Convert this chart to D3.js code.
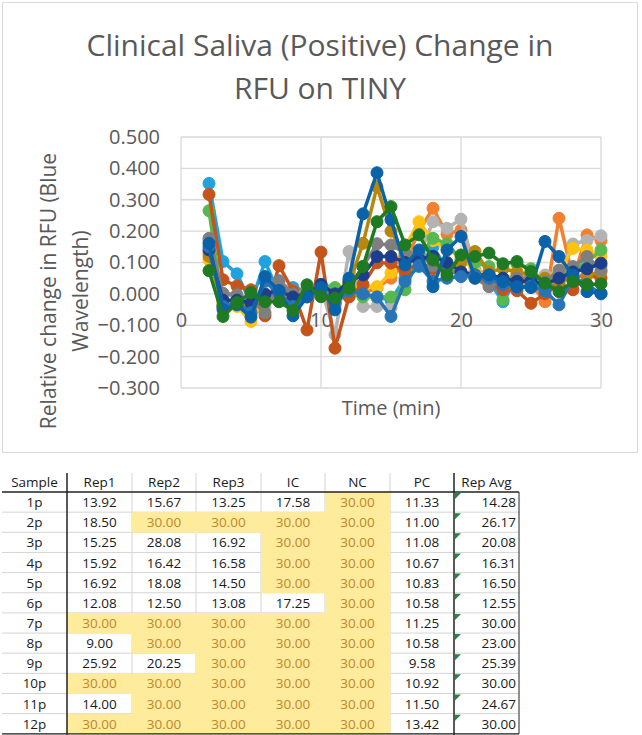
<!DOCTYPE html>
<html>
<head>
<meta charset="utf-8">
<script src="https://cdn.jsdelivr.net/npm/d3@7"></script>
<style>
  body { margin: 0; background: #fff; }
  svg { display: block; font-family: "Open Sans", sans-serif; }
</style>
</head>
<body>
<svg id="chart" width="642" height="735"></svg>
<script>
// x values (minutes) shared by every series
const minutes = [2, 3, 4, 5, 6, 7, 8, 9, 10, 11, 12, 13, 14, 15, 16, 17, 18, 19, 20, 21, 22, 23, 24, 25, 26, 27, 28, 29, 30];

// relative change in RFU, one array per sample
const s1p = [0.352, 0.103, 0.064, -0.03, 0.103, 0.0, 0.02, 0.01, 0.02, 0.0, 0.02, 0.0, -0.01, -0.02, 0.05, 0.087, 0.15, 0.08, 0.06, 0.06, 0.04, -0.025, 0.05, 0.04, 0.02, 0.03, 0.08, 0.09, 0.09];
const s2p = [0.13, -0.03, -0.03, -0.04, -0.03, 0.0, -0.02, 0.0, 0.02, 0.0, -0.01, 0.0, 0.02, 0.05, 0.1, 0.2, 0.273, 0.19, 0.204, 0.07, 0.06, 0.04, 0.04, 0.03, -0.025, 0.241, 0.05, 0.188, 0.17];
const s3p = [0.17, 0.0, -0.01, -0.03, -0.04, 0.04, 0.01, 0.0, 0.02, -0.13, 0.135, -0.04, -0.04, -0.045, 0.03, 0.12, 0.23, 0.209, 0.238, 0.08, 0.06, 0.05, 0.06, 0.05, 0.06, 0.07, 0.159, 0.17, 0.185];
const s4p = [0.108, -0.03, -0.04, -0.088, -0.02, -0.01, -0.03, 0.0, 0.02, 0.01, 0.03, 0.023, 0.023, 0.067, 0.15, 0.23, 0.17, 0.14, 0.12, 0.07, 0.06, 0.05, 0.06, 0.04, 0.05, 0.07, 0.145, 0.14, 0.12];
const s5p = [0.265, -0.04, -0.02, -0.03, -0.01, 0.0, -0.02, 0.01, 0.03, 0.02, 0.0, -0.01, -0.01, -0.01, 0.013, 0.12, 0.177, 0.16, 0.11, 0.1, 0.087, -0.019, 0.095, 0.08, 0.03, 0.06, 0.08, 0.1, 0.14];
const s6p = [0.317, 0.045, 0.025, 0.013, -0.07, 0.09, 0.01, -0.115, 0.133, -0.173, -0.009, 0.03, 0.099, 0.098, 0.07, 0.1, 0.08, 0.07, 0.07, 0.06, 0.03, 0.013, 0.01, -0.03, 0.0, 0.03, 0.013, 0.06, 0.05];
const s7p = [0.12, -0.04, -0.03, -0.04, -0.01, 0.0, -0.02, 0.01, 0.02, 0.0, 0.03, 0.161, 0.342, 0.2, 0.12, 0.13, 0.1, 0.092, 0.1, 0.135, 0.07, 0.08, 0.07, 0.06, 0.05, 0.04, 0.05, 0.06, 0.07];
const s8p = [0.177, 0.002, -0.003, -0.02, -0.06, 0.042, 0.0, 0.0, 0.02, -0.02, 0.02, 0.087, 0.16, 0.156, 0.13, 0.13, 0.09, 0.08, 0.06, 0.05, 0.023, 0.04, 0.05, 0.05, 0.04, 0.076, 0.087, 0.119, 0.076];
const s9p = [0.14, -0.02, -0.02, -0.03, 0.0, 0.01, -0.01, 0.0, 0.03, 0.0, 0.04, 0.06, 0.119, 0.119, 0.1, 0.11, 0.12, 0.1, 0.07, 0.06, 0.06, 0.05, 0.04, 0.04, 0.03, 0.05, 0.07, 0.08, 0.098];
const s10p = [0.15, -0.04, -0.03, -0.06, 0.04, 0.0, -0.04, -0.01, 0.01, -0.03, 0.01, 0.0, -0.01, -0.072, 0.04, 0.09, 0.04, 0.05, 0.055, 0.06, 0.05, 0.03, 0.02, 0.025, 0.01, -0.035, 0.05, 0.03, 0.0];
const s11p = [0.161, -0.05, -0.035, -0.074, 0.055, 0.01, -0.07, -0.009, 0.02, -0.051, 0.05, 0.255, 0.386, 0.236, 0.092, 0.14, 0.023, 0.14, 0.183, 0.05, 0.06, 0.039, 0.023, 0.02, 0.167, 0.119, 0.06, 0.007, 0.002];
const s12p = [0.074, -0.072, -0.028, 0.004, -0.025, -0.025, -0.053, 0.029, -0.009, -0.013, 0.018, 0.087, 0.23, 0.278, 0.156, 0.188, 0.108, 0.06, 0.124, 0.119, 0.13, 0.096, 0.103, 0.071, 0.034, 0.007, 0.039, 0.029, 0.032];

const seriesNames = ["1p", "2p", "3p", "4p", "5p", "6p", "7p", "8p", "9p", "10p", "11p", "12p"];
const seriesValues = [s1p, s2p, s3p, s4p, s5p, s6p, s7p, s8p, s9p, s10p, s11p, s12p];
const seriesColors = ["#1fa2dd", "#f2802f", "#b3b3b3", "#ffc20e", "#56b84f", "#c4541a",
                      "#b7860b", "#7f7f7f", "#1c3f8c", "#2874b8", "#0a62a9", "#1f7a24"];

const yTicks = [-0.3, -0.2, -0.1, 0, 0.1, 0.2, 0.3, 0.4, 0.5];
const xTicks = [0, 10, 20, 30];

// table columns
const tableHeaders = ["Sample", "Rep1", "Rep2", "Rep3", "IC", "NC", "PC", "Rep Avg"];
const sampleLabels = ["1p", "2p", "3p", "4p", "5p", "6p", "7p", "8p", "9p", "10p", "11p", "12p"];
const rep1 = [13.92, 18.50, 15.25, 15.92, 16.92, 12.08, 30.00, 9.00, 25.92, 30.00, 14.00, 30.00];
const rep2 = [15.67, 30.00, 28.08, 16.42, 18.08, 12.50, 30.00, 30.00, 20.25, 30.00, 30.00, 30.00];
const rep3 = [13.25, 30.00, 16.92, 16.58, 14.50, 13.08, 30.00, 30.00, 30.00, 30.00, 30.00, 30.00];
const ic = [17.58, 30.00, 30.00, 30.00, 30.00, 17.25, 30.00, 30.00, 30.00, 30.00, 30.00, 30.00];
const nc = [30.00, 30.00, 30.00, 30.00, 30.00, 30.00, 30.00, 30.00, 30.00, 30.00, 30.00, 30.00];
const pc = [11.33, 11.00, 11.08, 10.67, 10.83, 10.58, 11.25, 10.58, 9.58, 10.92, 11.50, 13.42];
const repAvg = [14.28, 26.17, 20.08, 16.31, 16.50, 12.55, 30.00, 23.00, 25.39, 30.00, 24.67, 30.00];

const svg = d3.select("#chart");
const textColor = "#595959";
const gridColor = "#d9d9d9";

// chart frame
svg.append("rect")
  .attr("x", 2.5).attr("y", 2.5)
  .attr("width", 635).attr("height", 450)
  .attr("fill", "#fff")
  .attr("stroke", gridColor);

// title
let title = svg.append("text")
  .attr("text-anchor", "middle")
  .attr("fill", textColor)
  .style("font-size", "30px");
title.append("tspan").attr("x", 320).attr("y", 56).text("Clinical Saliva (Positive) Change in");
title.append("tspan").attr("x", 320).attr("y", 99).text("RFU on TINY");

let xScale = d3.scaleLinear().domain([0, 30]).range([181, 601]);
let yScale = d3.scaleLinear().domain([-0.3, 0.5]).range([388, 137]);

// gridlines
svg.append("g")
  .selectAll("line")
  .data(yTicks)
  .enter()
  .append("line")
  .attr("x1", xScale(0)).attr("x2", xScale(30))
  .attr("y1", (d) => yScale(d)).attr("y2", (d) => yScale(d))
  .attr("stroke", gridColor)
  .attr("stroke-width", 1.3);

svg.append("g")
  .selectAll("line")
  .data(xTicks)
  .enter()
  .append("line")
  .attr("x1", (d) => xScale(d)).attr("x2", (d) => xScale(d))
  .attr("y1", yScale(0.5)).attr("y2", yScale(-0.3))
  .attr("stroke", gridColor)
  .attr("stroke-width", 1.3);

// y axis labels
let yAxis = d3.axisLeft(yScale).tickValues(yTicks).tickFormat(d3.format(".3f")).tickSize(0).tickPadding(21);
let yAxisG = svg.append("g").attr("transform", "translate(" + xScale(0) + ",0)").call(yAxis);
yAxisG.select(".domain").remove();
yAxisG.selectAll("text").attr("fill", textColor).style("font-size", "20px").style("font-family", "Open Sans");

// x axis labels sit just below the zero line
let xAxis = d3.axisBottom(xScale).tickValues(xTicks).tickFormat(d3.format("d")).tickSize(0).tickPadding(19);
let xAxisG = svg.append("g").attr("transform", "translate(0," + yScale(0) + ")").call(xAxis);
xAxisG.select(".domain").remove();
xAxisG.selectAll("text").attr("fill", textColor).style("font-size", "20px").style("font-family", "Open Sans");

// axis titles
svg.append("text")
  .attr("x", 391).attr("y", 415)
  .attr("text-anchor", "middle")
  .attr("fill", textColor)
  .style("font-size", "20px")
  .text("Time (min)");

let yTitle = svg.append("text")
  .attr("transform", "translate(0,291) rotate(-90)")
  .attr("text-anchor", "middle")
  .attr("fill", textColor)
  .style("font-size", "21px");
yTitle.append("tspan").attr("x", 0).attr("y", 56).text("Relative change in RFU (Blue");
yTitle.append("tspan").attr("x", 0).attr("y", 88).text("Wavelength)");

// series
let line = d3.line()
  .x((d, i) => xScale(minutes[i]))
  .y((d) => yScale(d));

seriesValues.forEach(function (vals, k) {
  let g = svg.append("g").attr("class", "series").attr("data-name", seriesNames[k]);
  g.append("path")
    .attr("d", line(vals))
    .attr("fill", "none")
    .attr("stroke", seriesColors[k])
    .attr("stroke-width", 3.5)
    .attr("stroke-linejoin", "round");
  g.selectAll("circle")
    .data(vals)
    .enter()
    .append("circle")
    .attr("cx", (d, i) => xScale(minutes[i]))
    .attr("cy", (d) => yScale(d))
    .attr("r", 6)
    .attr("fill", seriesColors[k])
    .attr("stroke", seriesColors[k]);
});

// ---- table ----
let colEdges = [2, 67, 132, 196, 261, 325, 390, 454, 519];
let headerTop = 473, headerBottom = 492, rowH = 20.15;
let columns = [sampleLabels, rep1, rep2, rep3, ic, nc, pc, repAvg];
let table = svg.append("g").style("font-size", "13.5px");

// light gridlines
table.selectAll(".hgrid")
  .data(sampleLabels)
  .enter()
  .append("line")
  .attr("x1", colEdges[0]).attr("x2", colEdges[8])
  .attr("y1", (d, i) => headerBottom + (i + 1) * rowH)
  .attr("y2", (d, i) => headerBottom + (i + 1) * rowH)
  .attr("stroke", "#d4d4d4");
table.selectAll(".vgrid")
  .data([2, 3, 4, 5, 6])
  .enter()
  .append("line")
  .attr("x1", (d) => colEdges[d]).attr("x2", (d) => colEdges[d])
  .attr("y1", headerTop).attr("y2", headerBottom + 12 * rowH)
  .attr("stroke", "#d4d4d4");

// highlighted (30.00) cells in Rep1..NC
for (let c = 1; c <= 5; c++) {
  columns[c].forEach(function (v, r) {
    if (v >= 30) {
      table.append("rect")
        .attr("x", colEdges[c]).attr("y", headerBottom + r * rowH)
        .attr("width", colEdges[c + 1] - colEdges[c] + 0.5)
        .attr("height", rowH + 0.5)
        .attr("fill", "#ffeb9c");
    }
  });
}

// heavy borders
table.append("line").attr("x1", colEdges[0]).attr("x2", colEdges[8])
  .attr("y1", headerBottom).attr("y2", headerBottom).attr("stroke", "#222").attr("stroke-width", 1.3);
table.append("line").attr("x1", colEdges[0]).attr("x2", colEdges[8])
  .attr("y1", headerBottom + 12 * rowH).attr("y2", headerBottom + 12 * rowH).attr("stroke", "#222").attr("stroke-width", 1.3);
[1, 7].forEach(function (c) {
  table.append("line").attr("x1", colEdges[c]).attr("x2", colEdges[c])
    .attr("y1", headerTop).attr("y2", headerBottom + 12 * rowH + 1).attr("stroke", "#222").attr("stroke-width", 1.5);
});
table.append("line").attr("x1", colEdges[8]).attr("x2", colEdges[8])
  .attr("y1", headerBottom).attr("y2", headerBottom + 12 * rowH).attr("stroke", "#222").attr("stroke-width", 1);

// header text
table.selectAll(".head")
  .data(tableHeaders)
  .enter()
  .append("text")
  .attr("x", (d, i) => (colEdges[i] + colEdges[i + 1]) / 2)
  .attr("y", headerBottom - 5)
  .attr("text-anchor", "middle")
  .attr("fill", "#1a1a1a")
  .text((d) => d);

// cell text
columns.forEach(function (col, c) {
  col.forEach(function (v, r) {
    let hi = c >= 1 && c <= 5 && v >= 30;
    let right = c === 7;
    table.append("text")
      .attr("x", right ? colEdges[8] - 3 : (colEdges[c] + colEdges[c + 1]) / 2)
      .attr("y", headerBottom + r * rowH + rowH / 2 + 5)
      .attr("text-anchor", right ? "end" : "middle")
      .attr("fill", hi ? "#c0862c" : "#1a1a1a")
      .text(c === 0 ? v : d3.format(".2f")(v));
    if (right) {
      let x0 = colEdges[7] + 1, y0 = headerBottom + r * rowH + 1;
      table.append("path")
        .attr("d", "M" + x0 + "," + y0 + "h6l-6,6z")
        .attr("fill", "#1e8a3e");
    }
  });
});
</script>
</body>
</html>
